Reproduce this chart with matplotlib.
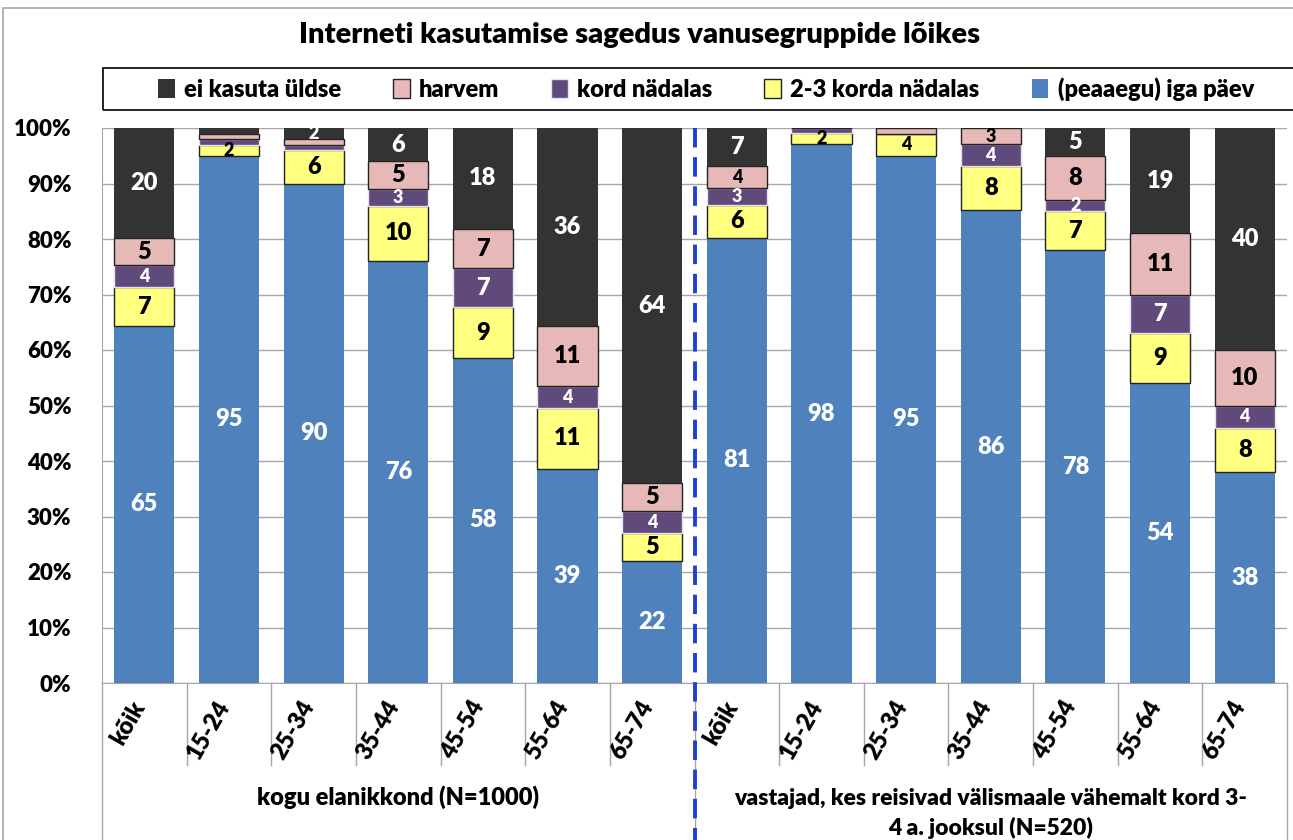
import matplotlib.pyplot as plt
import matplotlib.transforms as mtransforms
from matplotlib.patches import Rectangle
import numpy as np

plt.rcParams['font.family'] = ['Lato', 'DejaVu Sans']
plt.rcParams['font.weight'] = 'heavy'

# age groups, two panels of 7
groups = ["kõik", "15-24", "25-34", "35-44", "45-54", "55-64", "65-74"]
categories = groups + groups
panel_labels = ["kogu elanikkond (N=1000)",
                "vastajad, kes reisivad välismaale vähemalt kord 3-\n4 a. jooksul (N=520)"]

# percentages, bottom to top
daily = [65, 95, 90, 76, 58, 39, 22, 81, 98, 95, 86, 78, 54, 38]
weekly23 = [7, 2, 6, 10, 9, 11, 5, 6, 2, 4, 8, 7, 9, 8]
weekly1 = [4, 1, 1, 3, 7, 4, 4, 3, 1, 0, 4, 2, 7, 4]
rarely = [5, 1, 1, 5, 7, 11, 5, 4, 0, 1, 3, 8, 11, 10]
never = [20, 1, 2, 6, 18, 36, 64, 7, 0, 0, 0, 5, 19, 40]

series = [
    ("(peaaegu) iga päev", daily, "#4F81BD", "none", "white"),
    ("2-3 korda nädalas", weekly23, "#FFFF80", "#222222", "black"),
    ("kord nädalas", weekly1, "#604A7B", "#E8E0F0", "white"),
    ("harvem", rarely, "#E6B9B8", "#222222", "black"),
    ("ei kasuta üldse", never, "#333333", "none", "white"),
]

fig = plt.figure(figsize=(12.93, 8.4), dpi=100)
ax = fig.add_axes([102 / 1293, 157 / 840, 1185 / 1293, 555 / 840])

x = np.arange(len(categories))
totals = np.sum([s[1] for s in series], axis=0).astype(float)
bottom = np.zeros(len(categories))
handles = {}
for name, vals, color, edge, tcol in series:
    vals = np.array(vals, dtype=float)
    h = vals / totals * 100  # 100% stacked like in Excel
    bars = ax.bar(x, h, 0.71, bottom=bottom, color=color, edgecolor=edge,
                  linewidth=1, zorder=3)
    handles[name] = bars
    for xi, b, hh, v in zip(x, bottom, h, vals):
        if v >= 2:
            fs = 17 if v >= 5 else 13
            ax.text(xi, b + hh / 2, f"{int(v)}", ha='center', va='center',
                    color=tcol, fontsize=fs, fontweight='heavy', zorder=4)
    bottom += h

ax.set_xlim(-0.5, len(categories) - 0.5)
ax.set_ylim(0, 100)
ax.set_yticks(range(0, 101, 10))
ax.set_yticklabels([f"{v}%" for v in range(0, 101, 10)], fontsize=16, fontweight='heavy')
ax.tick_params(axis='y', length=0, pad=22)
ax.set_xticks([])
ax.grid(axis='y', color='#A6A6A6', linewidth=1, zorder=0)
for side in ['top', 'right']:
    ax.spines[side].set_visible(False)
for side in ['left', 'bottom']:
    ax.spines[side].set_color('#A6A6A6')

# category labels and separators below the axis
trans = mtransforms.blended_transform_factory(ax.transData, ax.transAxes)
for xi, lab in zip(x, categories):
    ax.text(xi - 0.05, -0.035, lab, transform=trans, rotation=60,
            rotation_mode='anchor', ha='right', va='center',
            fontsize=17, fontweight='heavy')
for k in range(len(categories) + 1):
    xs = k - 0.5
    low = -0.283 if k in (0, 7, 14) else -0.148
    ax.plot([xs, xs], [0, low], transform=trans, color='#A6A6A6',
            linewidth=1, clip_on=False)
ax.text(3, -0.205, panel_labels[0], transform=trans, ha='center', va='center',
        fontsize=17, fontweight='heavy')
ax.text(10, -0.235, panel_labels[1], transform=trans, ha='center', va='center',
        fontsize=16.5, fontweight='heavy', linespacing=1.45)

# dashed split between the two panels
ax.plot([6.5, 6.5], [1, -0.283], transform=trans, color='#1F3FD0',
        linewidth=2.8, linestyle=(0, (5, 2.5)), clip_on=False, zorder=6)

# chart border, title, legend
fig.patches.append(Rectangle((3 / 1293, -0.1), 1.2, 0.1 + (840 - 8) / 840,
                             transform=fig.transFigure, fill=False,
                             edgecolor='#A6A6A6', linewidth=1.2))
fig.text(640 / 1293, 1 - 35 / 840, "Interneti kasutamise sagedus vanusegruppide lõikes",
         ha='center', va='center', fontsize=21, fontweight='heavy')
fig.patches.append(Rectangle((103 / 1293, 1 - 110 / 840), 1.2, 42 / 840,
                             transform=fig.transFigure, fill=False,
                             edgecolor='black', linewidth=1.2))
order = ["ei kasuta üldse", "harvem", "kord nädalas", "2-3 korda nädalas", "(peaaegu) iga päev"]
fig.legend([handles[n] for n in order], order, loc='center',
           bbox_to_anchor=(706 / 1293, 1 - 89 / 840), ncol=5, frameon=False,
           handlelength=0.7, handleheight=0.9, handletextpad=0.4,
           columnspacing=2.2, prop={'weight': 'heavy', 'size': 17})

fig.savefig("out.png", dpi=100)
